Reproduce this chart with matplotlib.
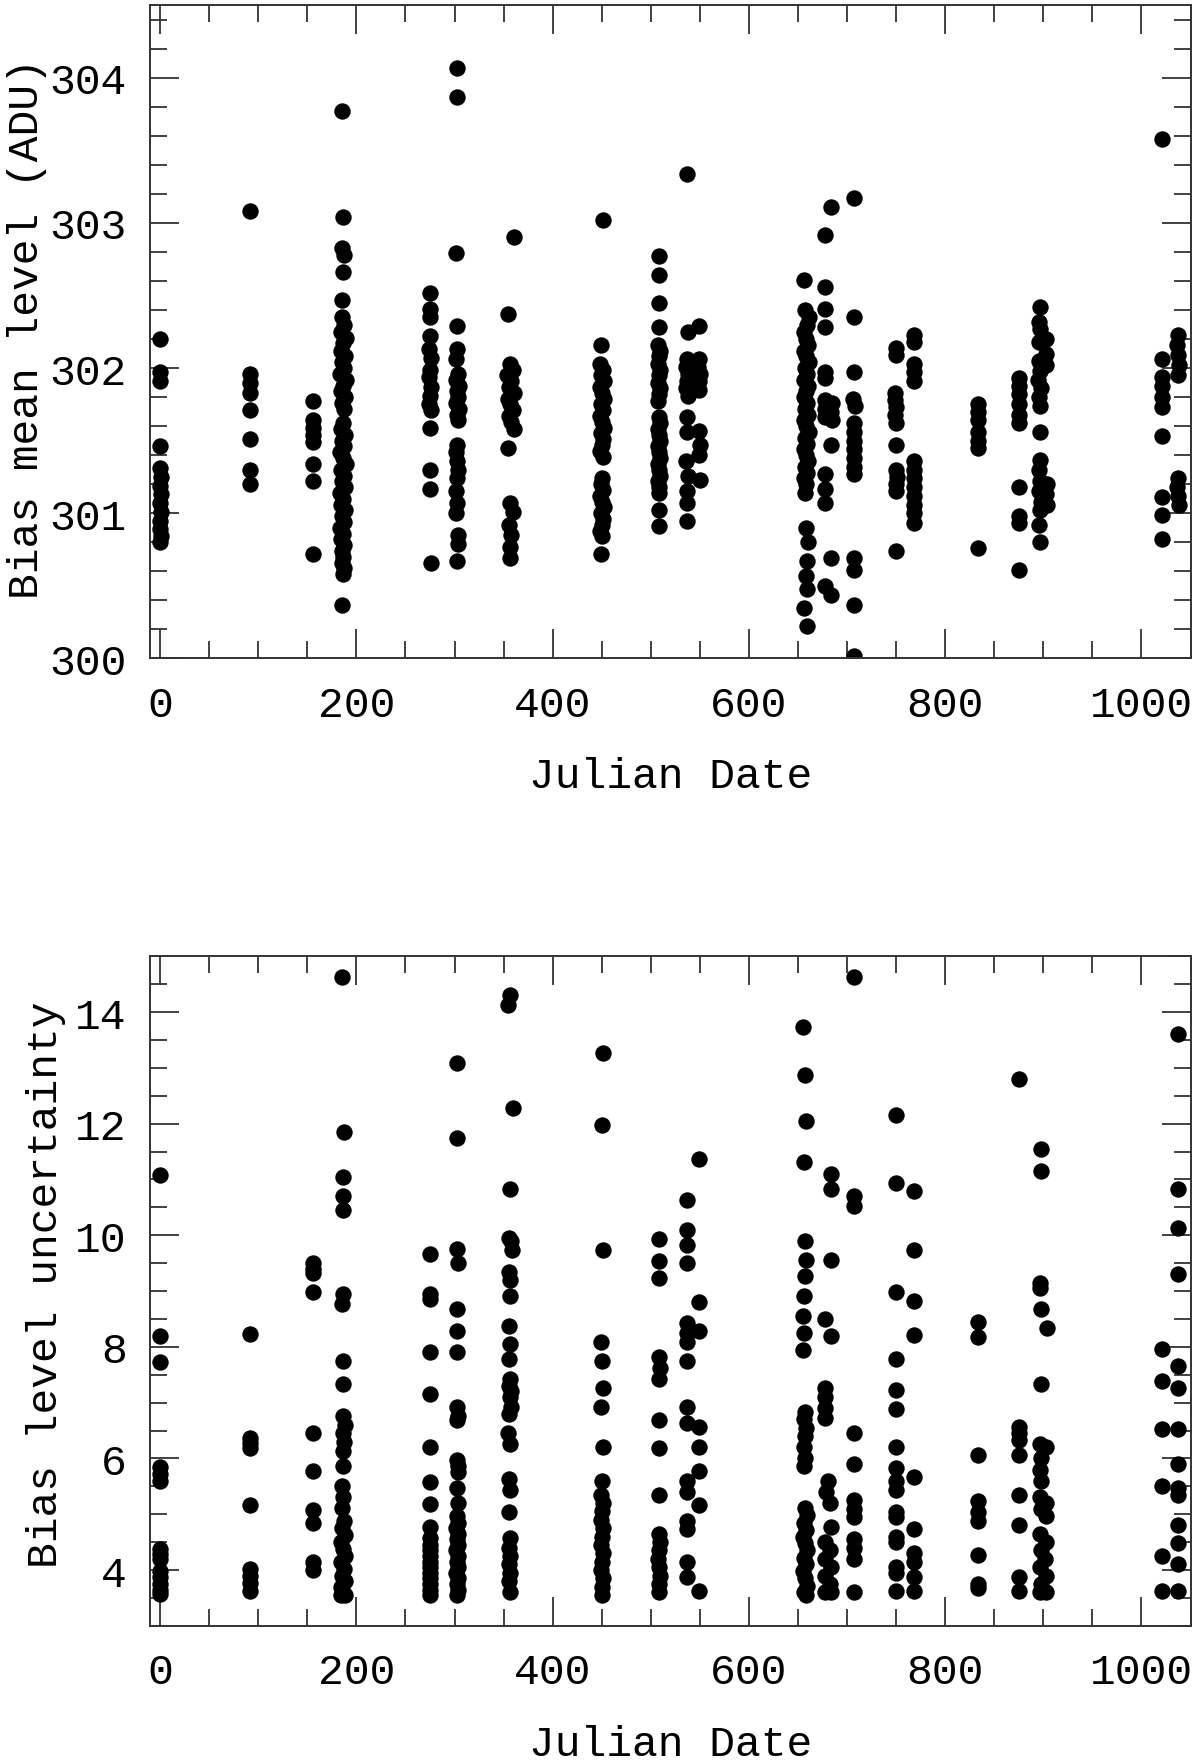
import numpy as np
import matplotlib.pyplot as plt
from matplotlib.ticker import MultipleLocator, FormatStrFormatter

# Bias mean level (ADU) vs Julian Date
mean_points = [
    # ~day 0
    (0, 302.20), (0, 301.97), (0, 301.91), (0, 301.46), (0, 301.31), (1, 301.25), (0, 301.19),
    (1, 301.13), (0, 301.07), (1, 301.01), (0, 300.95), (0, 300.89), (1, 300.84), (0, 300.80),
    # ~92
    (92, 303.08), (92, 301.96), (92, 301.90), (92, 301.83), (92, 301.71), (92, 301.51), (92, 301.30), (92, 301.20),
    # ~156
    (156, 301.77), (156, 301.64), (156, 301.59), (156, 301.54), (156, 301.49), (156, 301.34), (156, 301.22), (156, 300.72),
    # ~186
    (185, 303.77), (186, 303.04), (185, 302.83), (187, 302.78), (186, 302.66), (185, 302.47), (185, 302.35),
    (187, 302.30), (184, 302.25), (189, 302.21), (186, 302.17), (184, 302.12), (188, 302.08), (185, 302.04),
    (187, 302.00), (183, 301.96), (189, 301.92), (186, 301.88), (184, 301.84), (188, 301.80), (185, 301.76),
    (187, 301.72), (186, 301.62), (184, 301.58), (188, 301.54), (185, 301.50), (187, 301.46), (183, 301.42),
    (186, 301.38), (189, 301.34), (184, 301.30), (187, 301.26), (185, 301.22), (188, 301.18), (183, 301.14),
    (186, 301.10), (184, 301.06), (188, 301.02), (185, 300.98), (187, 300.94), (183, 300.90), (186, 300.86),
    (184, 300.82), (187, 300.78), (185, 300.74), (186, 300.70), (185, 300.66), (187, 300.62), (186, 300.58),
    (185, 300.37),
    # ~275
    (275, 302.52), (275, 302.41), (275, 302.35), (275, 302.22), (274, 302.13), (276, 302.07), (275, 301.99),
    (274, 301.94), (276, 301.87), (275, 301.81), (274, 301.75), (276, 301.71), (275, 301.59), (275, 301.30),
    (275, 301.17), (276, 300.66),
    # ~302
    (302, 304.07), (302, 303.87), (301, 302.79), (302, 302.29), (302, 302.13), (301, 302.06), (303, 301.96),
    (301, 301.92), (305, 301.88), (302, 301.84), (304, 301.80), (301, 301.76), (305, 301.72), (302, 301.68),
    (303, 301.64), (302, 301.47), (301, 301.42), (302, 301.36), (303, 301.30), (302, 301.24), (301, 301.15),
    (302, 301.07), (301, 301.00), (303, 300.85), (303, 300.79), (302, 300.67),
    # ~357
    (361, 302.90), (354, 302.37), (356, 302.03), (360, 301.99), (353, 301.95), (358, 301.91), (355, 301.87),
    (361, 301.83), (354, 301.79), (357, 301.75), (360, 301.71), (355, 301.67), (358, 301.63), (361, 301.58),
    (354, 301.45), (357, 301.07), (360, 301.01), (355, 300.92), (358, 300.85), (356, 300.77), (357, 300.69),
    # ~450
    (451, 303.02), (449, 302.16), (448, 302.03), (451, 301.99), (449, 301.95), (452, 301.91), (448, 301.87),
    (450, 301.83), (452, 301.79), (449, 301.75), (451, 301.71), (448, 301.67), (450, 301.63), (452, 301.59),
    (449, 301.55), (451, 301.51), (450, 301.47), (448, 301.43), (451, 301.39), (450, 301.24), (449, 301.20),
    (451, 301.16), (448, 301.12), (450, 301.08), (452, 301.04), (449, 301.00), (451, 300.96), (450, 300.92),
    (448, 300.88), (450, 300.84), (449, 300.72),
    # ~508
    (508, 302.77), (508, 302.64), (508, 302.45), (508, 302.28), (507, 302.16), (509, 302.12), (508, 302.08),
    (507, 302.03), (509, 301.99), (508, 301.95), (507, 301.90), (509, 301.86), (508, 301.82), (507, 301.77),
    (508, 301.66), (509, 301.62), (507, 301.58), (508, 301.54), (509, 301.50), (507, 301.46), (508, 301.42),
    (509, 301.38), (507, 301.34), (508, 301.30), (509, 301.26), (507, 301.22), (508, 301.18), (508, 301.14),
    (508, 301.02), (508, 300.91),
    # ~537 / ~549
    (537, 303.34), (538, 302.25), (537, 302.06), (536, 302.01), (538, 301.96), (537, 301.91), (536, 301.86),
    (538, 301.81), (537, 301.66), (537, 301.56), (536, 301.36), (538, 301.26), (537, 301.15), (537, 301.07),
    (537, 300.95),
    (549, 302.29), (549, 302.06), (548, 302.01), (550, 301.96), (549, 301.91), (549, 301.85), (549, 301.57),
    (550, 301.47), (549, 301.40), (550, 301.23),
    # ~657
    (656, 302.61), (657, 302.40), (661, 302.35), (659, 302.30), (656, 302.25), (658, 302.20), (660, 302.16),
    (656, 302.12), (658, 302.08), (661, 302.04), (657, 302.00), (659, 301.96), (656, 301.92), (660, 301.88),
    (658, 301.84), (656, 301.80), (659, 301.76), (657, 301.72), (660, 301.68), (656, 301.64), (658, 301.60),
    (661, 301.56), (657, 301.52), (659, 301.48), (656, 301.44), (658, 301.40), (660, 301.36), (657, 301.32),
    (659, 301.28), (656, 301.24), (658, 301.20), (657, 301.14), (658, 300.90), (660, 300.80), (659, 300.67),
    (658, 300.57), (659, 300.48), (656, 300.35), (659, 300.22),
    # ~680
    (684, 303.11), (677, 302.92), (678, 302.56), (678, 302.41), (678, 302.28), (678, 301.97), (678, 301.93),
    (678, 301.78), (685, 301.76), (678, 301.72), (684, 301.70), (678, 301.66), (685, 301.64), (684, 301.47),
    (678, 301.27), (678, 301.17), (678, 301.07), (684, 300.69), (678, 300.50), (684, 300.44),
    # ~707
    (707, 303.17), (707, 302.35), (707, 301.97), (706, 301.79), (708, 301.74), (707, 301.62), (707, 301.56),
    (707, 301.50), (707, 301.44), (707, 301.38), (707, 301.32), (707, 301.27), (707, 300.69), (707, 300.61),
    (707, 300.37), (707, 300.02),
    # ~750 / ~768
    (750, 302.14), (750, 302.09), (749, 301.83), (749, 301.78), (750, 301.73), (749, 301.68), (750, 301.62),
    (750, 301.47), (750, 301.30), (751, 301.25), (750, 301.20), (750, 301.15), (750, 300.74),
    (768, 302.23), (768, 302.18), (768, 302.03), (768, 301.97), (768, 301.91), (768, 301.36), (768, 301.30),
    (768, 301.24), (768, 301.18), (768, 301.12), (768, 301.06), (768, 301.00), (768, 300.93),
    # ~833
    (833, 301.75), (833, 301.70), (833, 301.64), (833, 301.56), (833, 301.50), (833, 301.45), (833, 300.76),
    # ~875
    (875, 301.93), (875, 301.88), (875, 301.82), (875, 301.75), (875, 301.68), (875, 301.62), (875, 301.18),
    (875, 300.98), (875, 300.93), (875, 300.61),
    # ~900
    (897, 302.42), (896, 302.32), (897, 302.27), (896, 302.18), (903, 302.20), (903, 302.10), (903, 302.02),
    (896, 302.05), (897, 301.98), (895, 301.92), (898, 301.86), (896, 301.80), (897, 301.74), (897, 301.56),
    (897, 301.37), (896, 301.30), (897, 301.22), (904, 301.20), (896, 301.15), (903, 301.13), (898, 301.08),
    (904, 301.06), (897, 301.02), (896, 300.92), (897, 300.80),
    # ~1021 / ~1037
    (1021, 303.58), (1021, 302.06), (1021, 301.94), (1021, 301.88), (1021, 301.80), (1021, 301.73),
    (1021, 301.53), (1021, 301.11), (1021, 300.99), (1021, 300.82),
    (1037, 302.23), (1036, 302.16), (1037, 302.09), (1038, 302.02), (1037, 301.95), (1037, 301.24),
    (1036, 301.18), (1037, 301.12), (1038, 301.06),
]

# Bias level uncertainty vs Julian Date
unc_points = [
    # ~0
    (0, 11.08), (0, 8.20), (0, 7.73), (0, 5.85), (0, 5.72), (0, 5.60), (0, 4.38), (0, 4.28), (0, 4.20),
    (0, 3.98), (0, 3.87), (0, 3.75), (0, 3.65), (0, 3.57),
    # ~92
    (92, 8.23), (92, 6.37), (92, 6.27), (92, 6.18), (92, 5.16), (92, 4.02), (92, 3.90), (92, 3.76), (92, 3.63),
    # ~156
    (156, 9.50), (156, 9.40), (156, 9.33), (156, 8.99), (156, 6.46), (156, 5.78), (156, 5.08), (156, 4.85),
    (156, 4.14), (156, 4.00),
    # ~186
    (185, 14.63), (187, 11.85), (186, 11.05), (186, 10.70), (186, 10.45), (186, 8.95), (185, 8.76), (186, 7.74),
    (186, 7.33), (186, 6.76), (188, 6.60), (186, 6.45), (187, 6.30), (186, 6.14), (186, 5.86), (185, 5.51),
    (186, 5.30), (185, 5.12), (187, 4.88), (185, 4.75), (188, 4.62), (184, 4.50), (186, 4.38), (188, 4.26),
    (184, 4.14), (187, 4.02), (185, 3.90), (188, 3.80), (184, 3.70), (186, 3.60), (188, 3.55), (184, 3.55),
    # ~275
    (275, 9.67), (275, 8.95), (275, 8.85), (275, 7.90), (275, 7.15), (275, 6.21), (275, 5.57), (275, 5.18),
    (275, 4.77), (275, 4.57), (275, 4.45), (275, 4.35), (275, 4.25), (275, 4.15), (275, 4.05), (275, 3.95),
    (275, 3.85), (275, 3.75), (275, 3.65), (275, 3.55),
    # ~302
    (302, 13.08), (302, 11.75), (302, 9.75), (303, 9.50), (302, 8.68), (302, 8.29), (302, 7.90), (302, 6.92),
    (303, 6.76), (302, 6.68), (302, 5.98), (304, 5.87), (303, 5.76), (302, 5.47), (303, 5.20), (302, 4.96),
    (303, 4.85), (301, 4.75), (303, 4.65), (302, 4.55), (304, 4.45), (301, 4.35), (303, 4.25), (302, 4.15),
    (304, 4.05), (301, 3.95), (303, 3.85), (302, 3.75), (304, 3.65), (302, 3.55),
    # ~357
    (357, 14.31), (354, 14.12), (360, 12.28), (356, 10.83), (355, 9.95), (358, 9.90), (359, 9.73), (355, 9.35),
    (356, 9.20), (357, 8.91), (355, 8.37), (357, 8.05), (355, 7.78), (357, 7.43), (355, 7.30), (358, 7.20),
    (356, 7.10), (358, 6.93), (355, 6.80), (354, 6.45), (357, 6.25), (355, 5.63), (356, 5.43), (355, 5.04),
    (357, 4.57), (355, 4.40), (357, 4.25), (355, 4.10), (357, 3.95), (355, 3.80), (356, 3.60),
    # ~450
    (451, 13.26), (450, 11.98), (451, 9.74), (449, 8.09), (450, 7.74), (451, 7.27), (449, 6.92), (451, 6.21),
    (450, 5.59), (449, 5.35), (451, 5.20), (450, 5.05), (449, 4.90), (451, 4.75), (450, 4.60), (449, 4.45),
    (451, 4.30), (450, 4.15), (449, 4.00), (451, 3.85), (450, 3.70), (450, 3.55),
    # ~508
    (508, 9.93), (508, 9.54), (508, 9.23), (508, 7.82), (509, 7.62), (508, 7.43), (508, 6.68), (508, 6.18),
    (508, 5.34), (508, 4.65), (509, 4.50), (508, 4.35), (507, 4.20), (508, 4.05), (509, 3.90), (508, 3.75),
    (508, 3.60),
    # ~537 / ~549
    (537, 10.64), (537, 10.09), (537, 9.83), (537, 9.50), (537, 8.42), (537, 8.25), (537, 8.09), (537, 7.74),
    (537, 6.92), (537, 6.64), (537, 5.59), (537, 5.39), (537, 4.88), (537, 4.73), (537, 4.14), (537, 3.87),
    (549, 11.36), (549, 8.81), (549, 8.29), (549, 6.57), (549, 6.21), (549, 5.78), (549, 5.16), (549, 3.63),
    # ~657
    (655, 13.73), (657, 12.87), (658, 12.04), (656, 11.32), (657, 9.89), (658, 9.56), (657, 9.27), (656, 8.91),
    (655, 8.56), (656, 8.25), (655, 7.95), (657, 6.84), (656, 6.70), (658, 6.55), (657, 6.40), (656, 6.20),
    (657, 6.00), (656, 5.86), (657, 5.12), (659, 4.98), (656, 4.85), (658, 4.72), (655, 4.60), (657, 4.48),
    (659, 4.35), (656, 4.22), (658, 4.10), (655, 3.98), (657, 3.85), (659, 3.72), (656, 3.60), (658, 3.55),
    # ~680
    (684, 11.10), (684, 10.83), (684, 9.56), (677, 8.50), (684, 8.19), (677, 7.27), (677, 7.10), (677, 6.90),
    (677, 6.72), (681, 5.59), (679, 5.40), (683, 5.20), (684, 4.77), (677, 4.50), (683, 4.35), (678, 4.20),
    (684, 4.05), (677, 3.90), (683, 3.75), (678, 3.60), (684, 3.60),
    # ~707
    (707, 14.63), (707, 10.71), (707, 10.52), (707, 6.45), (707, 5.90), (707, 5.25), (707, 5.10), (707, 4.95),
    (707, 4.55), (707, 4.40), (707, 4.20), (707, 3.60),
    # ~750 / ~768
    (750, 12.15), (750, 10.93), (750, 8.99), (750, 7.78), (750, 7.22), (750, 6.88), (750, 6.21), (750, 5.82),
    (750, 5.60), (750, 5.43), (750, 5.04), (750, 4.95), (750, 4.60), (750, 4.50), (750, 4.06), (750, 3.95),
    (750, 3.63),
    (768, 10.79), (768, 9.73), (768, 8.83), (768, 8.21), (768, 5.67), (768, 4.73), (768, 4.30), (768, 4.14),
    (768, 3.87), (768, 3.63),
    # ~833
    (833, 8.44), (833, 8.17), (833, 6.06), (833, 5.24), (833, 5.04), (833, 4.88), (833, 4.27), (833, 3.75),
    (833, 3.67),
    # ~875
    (875, 12.81), (875, 6.57), (875, 6.45), (875, 6.33), (875, 6.06), (875, 5.35), (875, 4.81), (875, 3.87),
    (875, 3.63),
    # ~900
    (898, 11.54), (898, 11.15), (897, 9.15), (897, 9.05), (898, 8.68), (904, 8.34), (898, 7.33), (897, 6.25),
    (903, 6.20), (898, 6.00), (897, 5.80), (898, 5.60), (897, 5.31), (903, 5.20), (898, 5.10), (903, 4.96),
    (897, 4.65), (903, 4.50), (898, 4.35), (902, 4.20), (897, 4.05), (903, 3.90), (898, 3.75), (903, 3.60),
    (897, 3.60),
    # ~1021 / ~1037
    (1021, 7.97), (1021, 7.39), (1021, 6.53), (1021, 5.51), (1021, 4.26), (1021, 3.62),
    (1037, 13.61), (1037, 10.83), (1037, 10.13), (1037, 9.30), (1037, 7.66), (1037, 7.27), (1037, 6.53),
    (1037, 5.90), (1037, 5.47), (1037, 5.35), (1037, 4.81), (1037, 4.49), (1037, 4.10), (1037, 3.63),
]

jd_mean, bias_mean = np.array(mean_points).T
jd_unc, bias_unc = np.array(unc_points).T

plt.rcParams['font.family'] = ['Liberation Mono', 'DejaVu Sans']
FS = 31
AXC = '#333333'
MS = 11.8

fig = plt.figure(figsize=(12, 17.65), dpi=100)
ax1 = fig.add_axes([0.1253, 0.6264, 0.8668, 0.3701])
ax2 = fig.add_axes([0.1253, 0.0783, 0.8668, 0.3793])


def style(ax, ymaj, ymin):
    ax.set_xlim(-10, 1050)
    ax.xaxis.set_major_locator(MultipleLocator(200))
    ax.xaxis.set_minor_locator(MultipleLocator(50))
    ax.yaxis.set_major_locator(MultipleLocator(ymaj))
    ax.yaxis.set_minor_locator(MultipleLocator(ymin))
    ax.xaxis.set_major_formatter(FormatStrFormatter('%d'))
    ax.yaxis.set_major_formatter(FormatStrFormatter('%d'))
    ax.tick_params(which='both', direction='in', top=True, right=True,
                   color=AXC, width=1.3, labelsize=FS)
    ax.tick_params(which='major', length=21)
    ax.tick_params(which='minor', length=12.5)
    ax.tick_params(axis='x', pad=19)
    ax.tick_params(axis='y', pad=17)
    for s in ax.spines.values():
        s.set_color(AXC)
        s.set_linewidth(1.4)


#Top panel
ax1.plot(jd_mean, bias_mean, 'o', color='black', markersize=MS, markeredgewidth=0, linestyle='none')
ax1.set_ylim(300, 304.5)
style(ax1, 1, 0.2)
ax1.text(-0.1186, 0.506, 'Bias mean level (ADU)', rotation=90, transform=ax1.transAxes,
         ha='center', va='center', fontsize=FS)
ax1.text(0.5, -0.1807, 'Julian Date', transform=ax1.transAxes, ha='center', va='center', fontsize=FS)

#Bottom panel
ax2.plot(jd_unc, bias_unc, 'o', color='black', markersize=MS, markeredgewidth=0, linestyle='none')
ax2.set_ylim(3, 15)
style(ax2, 2, 0.5)
ax2.text(-0.1004, 0.5106, 'Bias level uncertainty', rotation=90, transform=ax2.transAxes,
         ha='center', va='center', fontsize=FS)
ax2.text(0.5, -0.176, 'Julian Date', transform=ax2.transAxes, ha='center', va='center', fontsize=FS)

fig.savefig('out.png', dpi=100)
